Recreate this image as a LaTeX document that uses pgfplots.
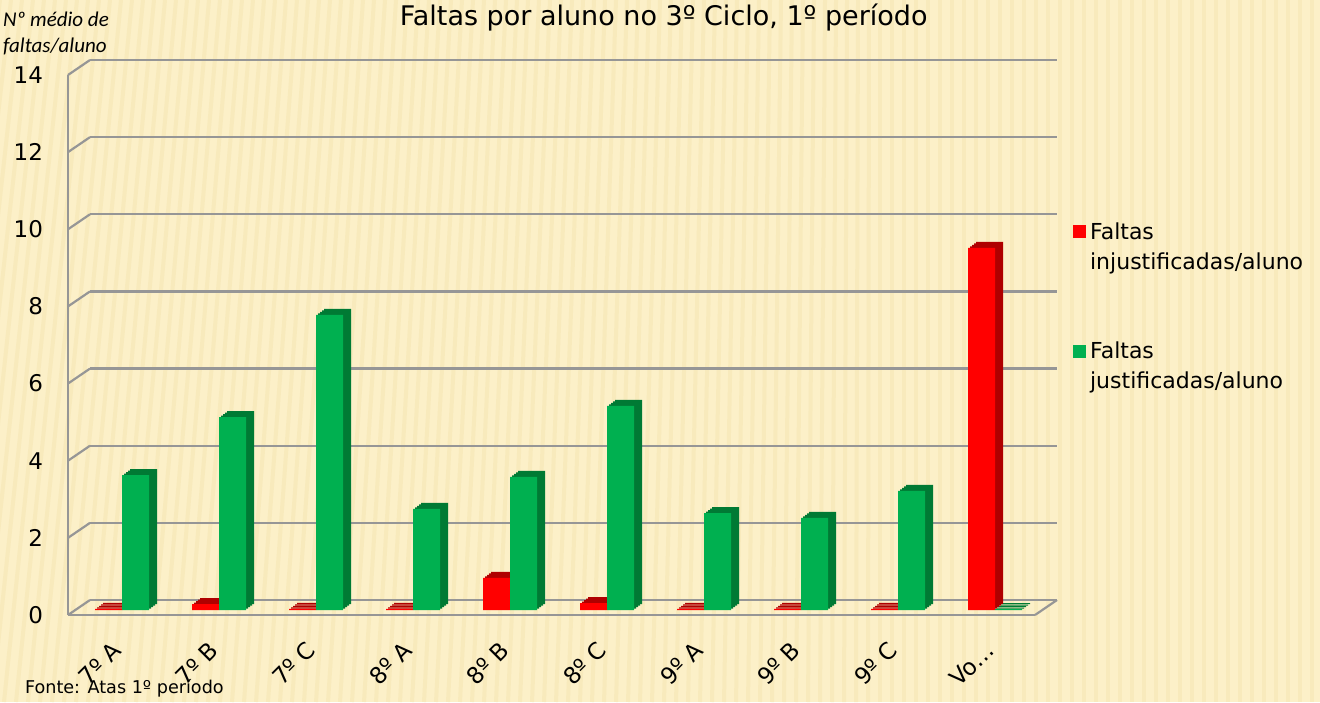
\documentclass[border=0pt]{standalone}
\usepackage{fontspec}
\setmainfont{DejaVu Sans}
\newfontfamily\calibri{Carlito}
\usepackage{pgfplots}
\usepackage{pgfplotstable}
\pgfplotsset{compat=1.18}

\definecolor{bgbeige}{RGB}{252,240,200}
\definecolor{bgstripe}{RGB}{248,234,188}
\definecolor{gridgray}{RGB}{150,150,150}
\definecolor{rface}{RGB}{255,0,0}
\definecolor{rdark}{RGB}{175,0,0}
\definecolor{gface}{RGB}{0,176,80}
\definecolor{gdark}{RGB}{0,122,52}

% faltas por aluno: r = injustificadas, g = justificadas
\pgfplotstableread{
x r    g
0 0.03 3.50
1 0.15 5.00
2 0.03 7.65
3 0.03 2.62
4 0.83 3.45
5 0.18 5.29
6 0.03 2.51
7 0.03 2.39
8 0.03 3.09
9 9.39 0.02
}\faltas

\pgfplotsset{
  bar3d/.style={ybar, bar width=13.5pt, draw=none},
}

\begin{document}
\begin{tikzpicture}
\fill[bgbeige] (0,0) rectangle (660pt,351pt);
\begin{scope}
\clip (0,0) rectangle (660pt,351pt);
\foreach \i in {0,...,120}{
  \pgfmathsetmacro{\xs}{\i*6-40}
  \pgfmathsetmacro{\sl}{max(0,40*(1-\i/80))}
  \draw[bgstripe, line width=2pt] (\xs pt,0) -- ++(\sl pt,351pt);
}
\end{scope}
\begin{axis}[
    at={(34pt,43.5pt)}, anchor=south west,
    scale only axis,
    width=483.5pt, height=270pt,
    xmin=-0.5567, xmax=9.412,
    ymin=0, ymax=14,
    clip=false,
    axis lines*=left,
    axis line style={-, gridgray, line width=1.1pt},
    major tick length=0pt,
    xtick={0,...,9},
    xticklabels={7º A,7º B,7º C,8º A,8º B,8º C,9º A,9º B,9º C,Vo…},
    ytick={0,2,...,14},
    ymajorgrids,
    major grid style={gridgray, line width=1.1pt, xshift=11pt, yshift=7.5pt},
    /pgf/number format/assume math mode=true,
    tick label style={font=\fontsize{11.5}{13}\selectfont},
    yticklabel style={anchor=east, xshift=-9pt},
    xticklabel style={anchor=east, yshift=-13pt, rotate=45},
    legend style={at={(1.039,0.735)}, anchor=north west, draw=none, fill=none,
      font=\fontsize{11}{15}\selectfont, row sep=31pt, inner sep=0pt,
      cells={align=left, anchor=west}},
    legend image code/.code={\fill[#1] (0pt,2pt) rectangle (6.5pt,8.5pt);},
]
% red: faltas injustificadas (depth first, then front face)
\pgfplotsinvokeforeach{4,3,2,1}{
  \addplot[bar3d, bar shift=-6.75pt, fill=rdark, xshift=#1pt, yshift={2.5pt+0.75pt*#1}, forget plot]
    table[x=x, y=r] {\faltas};
}
\addplot[bar3d, bar shift=-6.75pt, fill=rface, yshift=2.5pt] table[x=x, y=r] {\faltas};
\addlegendentry{Faltas\\injustificadas/aluno}
% green: faltas justificadas
\pgfplotsinvokeforeach{4,3,2,1}{
  \addplot[bar3d, bar shift=6.75pt, fill=gdark, xshift=#1pt, yshift={2.5pt+0.75pt*#1}, forget plot]
    table[x=x, y=g] {\faltas};
}
\addplot[bar3d, bar shift=6.75pt, fill=gface, yshift=2.5pt] table[x=x, y=g] {\faltas};
\addlegendentry{Faltas\\justificadas/aluno}

% perspective edges of the walls
\pgfplotsinvokeforeach{0,2,4,6,8,10,12,14}{
  \draw[gridgray, line width=1.1pt] (axis cs:-0.5567,#1) -- ++(11pt,7.5pt);
}
\draw[gridgray, line width=1.1pt] (axis cs:9.412,0) -- ++(11pt,7.5pt);

\node[anchor=center, font=\fontsize{13.5}{16}\selectfont]
  at (rel axis cs:0.616,1.106) {Faltas por aluno no 3º Ciclo, 1º período};
\node[anchor=north west, align=left, font=\calibri\itshape\fontsize{10.5}{13}\selectfont]
  at (rel axis cs:-0.0745,1.13) {Nº médio de\\faltas/aluno};
\node[anchor=west, font=\fontsize{8.8}{11}\selectfont]
  at (rel axis cs:-0.0517,-0.135) {Fonte: Atas 1º período};
\end{axis}
\pgfresetboundingbox
\path[use as bounding box] (0,0) rectangle (660pt,351pt);
\end{tikzpicture}
\end{document}
